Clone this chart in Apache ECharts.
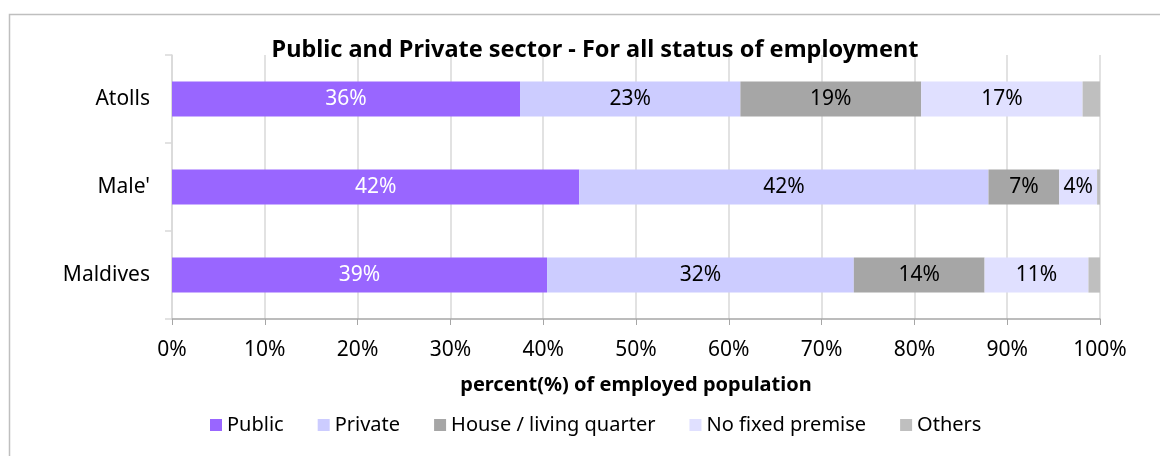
<!DOCTYPE html>
<html>
<head>
<meta charset="utf-8">
<script src="https://cdn.jsdelivr.net/npm/echarts@6/dist/echarts.min.js"></script>
<style>
  html, body { margin: 0; padding: 0; background: #fff; }
  #chart { width: 1160px; height: 456px; }
</style>
</head>
<body>
<div id="chart"></div>
<script>
// 各地区就业人口按工作地点分布 (单位: %)
const categories = ['Maldives', "Male'", 'Atolls'];
const publicVals = [39.0, 42.0, 36.0];
const privateVals = [31.9, 42.2, 22.8];
const houseVals = [13.6, 7.3, 18.7];
const noFixedVals = [10.8, 3.9, 16.7];
const otherVals = [1.2, 0.3, 1.8];
const xTicks = [0, 10, 20, 30, 40, 50, 60, 70, 80, 90, 100];

const seriesNames = ['Public', 'Private', 'House / living quarter', 'No fixed premise', 'Others'];
const seriesVals = [publicVals, privateVals, houseVals, noFixedVals, otherVals];
const colors = ['#9966ff', '#ccccff', '#a6a6a6', '#e0e0ff', '#bfbfbf'];
const labelColors = ['#ffffff', '#000000', '#000000', '#000000', null];

// 100% 堆叠: 每行按总数归一
const totals = categories.map((c, i) => seriesVals.reduce((s, v) => s + v[i], 0));

const font = 'Noto Sans';
const chart = echarts.init(document.getElementById('chart'));

const option = {
  animation: false,
  textStyle: { fontFamily: font },
  color: colors,
  title: {
    text: 'Public and Private sector - For all status of employment',
    left: 590, top: 33, textAlign: 'center',
    textStyle: { fontFamily: font, fontSize: 23.5, fontWeight: 'bold', color: '#000' }
  },
  graphic: [{
    type: 'rect', left: 7, top: 12, z: -1,
    shape: { width: 1170, height: 460 },
    style: { fill: 'none', stroke: '#bfbfbf', lineWidth: 1.5 }
  }],
  legend: {
    bottom: 16, left: 205,
    icon: 'rect', itemWidth: 12, itemHeight: 12, itemGap: 34,
    textStyle: { fontFamily: font, fontSize: 20, color: '#000' },
    data: seriesNames
  },
  grid: { left: 172, right: 60, top: 55, height: 264, containLabel: false },
  xAxis: {
    type: 'value', min: 0, max: 100, interval: 10,
    name: 'percent(%) of employed population',
    nameLocation: 'middle', nameGap: 56,
    nameTextStyle: { fontFamily: font, fontSize: 20, fontWeight: 'bold', color: '#000' },
    axisLine: { show: true, lineStyle: { color: '#a6a6a6', width: 1.5 } },
    axisTick: { show: true, length: 6, lineStyle: { color: '#a6a6a6' } },
    axisLabel: { fontSize: 21, color: '#000', margin: 21, formatter: v => xTicks.includes(v) ? v + '%' : '' },
    splitLine: { show: true, lineStyle: { color: '#d9d9d9', width: 1.5 } }
  },
  yAxis: {
    type: 'category', data: categories,
    axisLine: { show: true, lineStyle: { color: '#d9d9d9', width: 1.5 } },
    axisTick: { show: true, length: 7, lineStyle: { color: '#d9d9d9', width: 1.5 } },
    axisLabel: { fontSize: 21, color: '#000', margin: 22 }
  },
  series: seriesNames.map((name, k) => ({
    name: name, type: 'bar', stack: 'all', barWidth: '40%',
    itemStyle: { color: colors[k] },
    label: {
      show: labelColors[k] !== null, position: 'inside',
      color: labelColors[k] || '#000', fontSize: 21, fontFamily: font,
      formatter: p => Math.round(seriesVals[k][p.dataIndex]) + '%'
    },
    data: seriesVals[k].map((v, i) => v / totals[i] * 100)
  }))
};

chart.setOption(option);
</script>
</body>
</html>
